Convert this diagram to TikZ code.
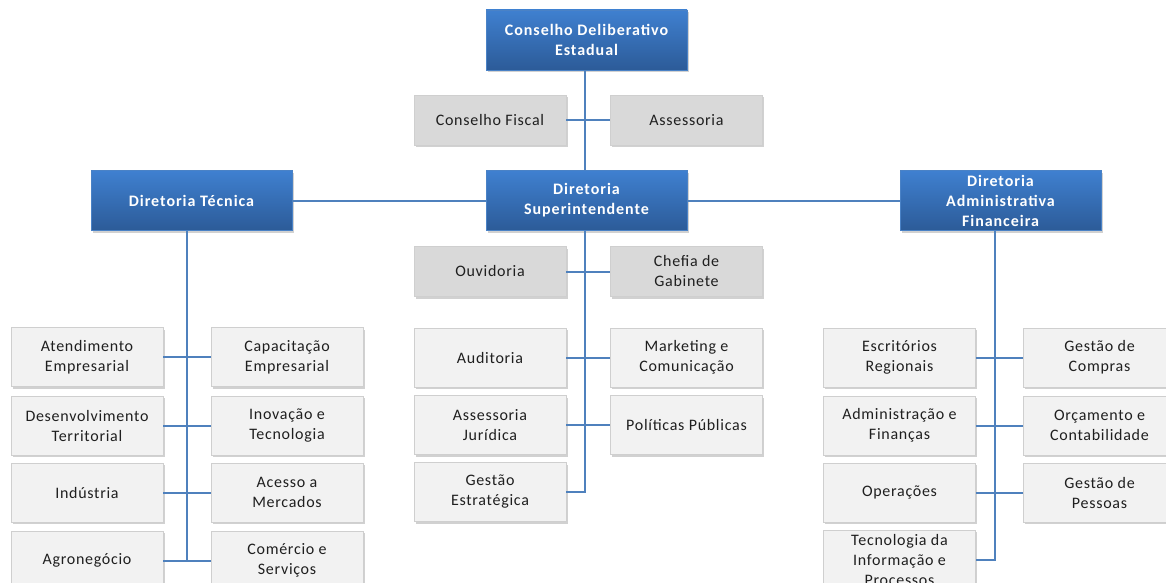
\documentclass[tikz,border=0pt]{standalone}
\usepackage{fontspec}
\setmainfont{Carlito}
\newfontfamily\grayfont[LetterSpace=4.5]{Carlito}
\newfontfamily\bluefont[LetterSpace=6]{Carlito}
\usetikzlibrary{shadows}
\definecolor{lineblue}{HTML}{4F81BD}
\definecolor{bluetop}{HTML}{3F80D0}
\definecolor{bluebot}{HTML}{2C5B98}
\definecolor{blueedge}{HTML}{4A82C6}
\definecolor{darkgray}{HTML}{D9D9D9}
\definecolor{lightgray}{HTML}{F2F2F2}
\definecolor{grayedge}{HTML}{CFCFCF}
\definecolor{txt}{HTML}{1F1F1F}
\tikzset{
  conn/.style={draw=lineblue, line width=2pt},
  boxbase/.style={rectangle, inner sep=0pt, align=center,
    drop shadow={shadow xshift=1.5pt, shadow yshift=-2pt, opacity=0.3, fill=black!60}},
  bluebox/.style={boxbase, minimum width=201pt, minimum height=60pt,
    top color=bluetop, bottom color=bluebot, draw=blueedge, line width=0.6pt,
    text=white, font=\bluefont\fontsize{16}{20}\selectfont\bfseries},
  dgraybox/.style={boxbase, minimum width=152pt, minimum height=50pt,
    fill=darkgray, draw=grayedge, line width=0.5pt,
    text=txt, font=\grayfont\fontsize{16}{20}\selectfont},
  lgraybox/.style={boxbase, minimum width=152pt, minimum height=59pt,
    fill=lightgray, draw=grayedge, line width=0.5pt,
    text=txt, font=\grayfont\fontsize{16}{20}\selectfont}
}
\begin{document}
\begin{tikzpicture}[x=1pt, y=-1pt]
\useasboundingbox (0,0) rectangle (1166,583);
\clip (0,0) rectangle (1166,583);

% top level
\node[bluebox] (cde) at (586.5,40) {Conselho Deliberativo\\Estadual};
\node[dgraybox] (cfis) at (490,120) {Conselho Fiscal};
\node[dgraybox] (asse) at (686.5,120) {Assessoria};
\node[bluebox] (sup) at (586.5,200.5) {Diretoria\\Superintendente};
\node[bluebox] (tec) at (191.5,200.5) {Diretoria Técnica};
\node[bluebox] (adm) at (1000.5,200.5) {Diretoria\\Administrativa\\Financeira};

% centre column
\node[dgraybox] (ouv) at (490,271.5) {Ouvidoria};
\node[dgraybox] (chef) at (686.5,271.5) {Chefia de\\Gabinete};
\node[lgraybox] (aud) at (490,357.5) {Auditoria};
\node[lgraybox] (mkt) at (686.5,357.5) {Marketing e\\Comunicação};
\node[lgraybox] (jur) at (490,425) {Assessoria\\Jurídica};
\node[lgraybox] (pol) at (686.5,425) {Políticas Públicas};
\node[lgraybox] (gest) at (490,492) {Gestão\\Estratégica};

% left column
\node[lgraybox] (atend) at (87,357) {Atendimento\\Empresarial};
\node[lgraybox] (capac) at (287,357) {Capacitação\\Empresarial};
\node[lgraybox] (desen) at (87,425.5) {Desenvolvimento\\Territorial};
\node[lgraybox] (inov) at (287,425.5) {Inovação e\\Tecnologia};
\node[lgraybox] (ind) at (87,492.5) {Indústria};
\node[lgraybox] (aces) at (287,492.5) {Acesso a\\Mercados};
\node[lgraybox] (agro) at (87,560.5) {Agronegócio};
\node[lgraybox] (come) at (287,560.5) {Comércio e\\Serviços};

% right column
\node[lgraybox] (escr) at (899.5,357.5) {Escritórios\\Regionais};
\node[lgraybox] (comp) at (1099.5,357.5) {Gestão de\\Compras};
\node[lgraybox] (admf) at (899.5,425.5) {Administração e\\Finanças};
\node[lgraybox] (orca) at (1099.5,425.5) {Orçamento e\\Contabilidade};
\node[lgraybox] (oper) at (899.5,492.5) {Operações};
\node[lgraybox] (pess) at (1099.5,492.5) {Gestão de\\Pessoas};
\node[lgraybox] (tinf) at (899.5,559.5) {Tecnologia da\\Informação e\\Processos};

% connectors
\draw[conn] ([xshift=-1.5pt]cde.south) -- ([xshift=-1.5pt]sup.north);
\draw[conn] (cfis.east) -- (asse.west);
\draw[conn] (tec.east) -- (sup.west);
\draw[conn] (sup.east) -- (adm.west);

\draw[conn] ([xshift=-1.5pt]sup.south) |- (gest.east);
\draw[conn] (ouv.east) -- (chef.west);
\draw[conn] (aud.east) -- (mkt.west);
\draw[conn] (jur.east) -- (pol.west);

\draw[conn] ([xshift=-4.5pt]tec.south) -- ([xshift=-4.5pt]tec.south |- agro.east);
\draw[conn] (atend.east) -- (capac.west);
\draw[conn] (desen.east) -- (inov.west);
\draw[conn] (ind.east) -- (aces.west);
\draw[conn] (agro.east) -- (come.west);

\draw[conn] ([xshift=-5.5pt]adm.south) |- (tinf.east);
\draw[conn] (escr.east) -- (comp.west);
\draw[conn] (admf.east) -- (orca.west);
\draw[conn] (oper.east) -- (pess.west);
\end{tikzpicture}
\end{document}
